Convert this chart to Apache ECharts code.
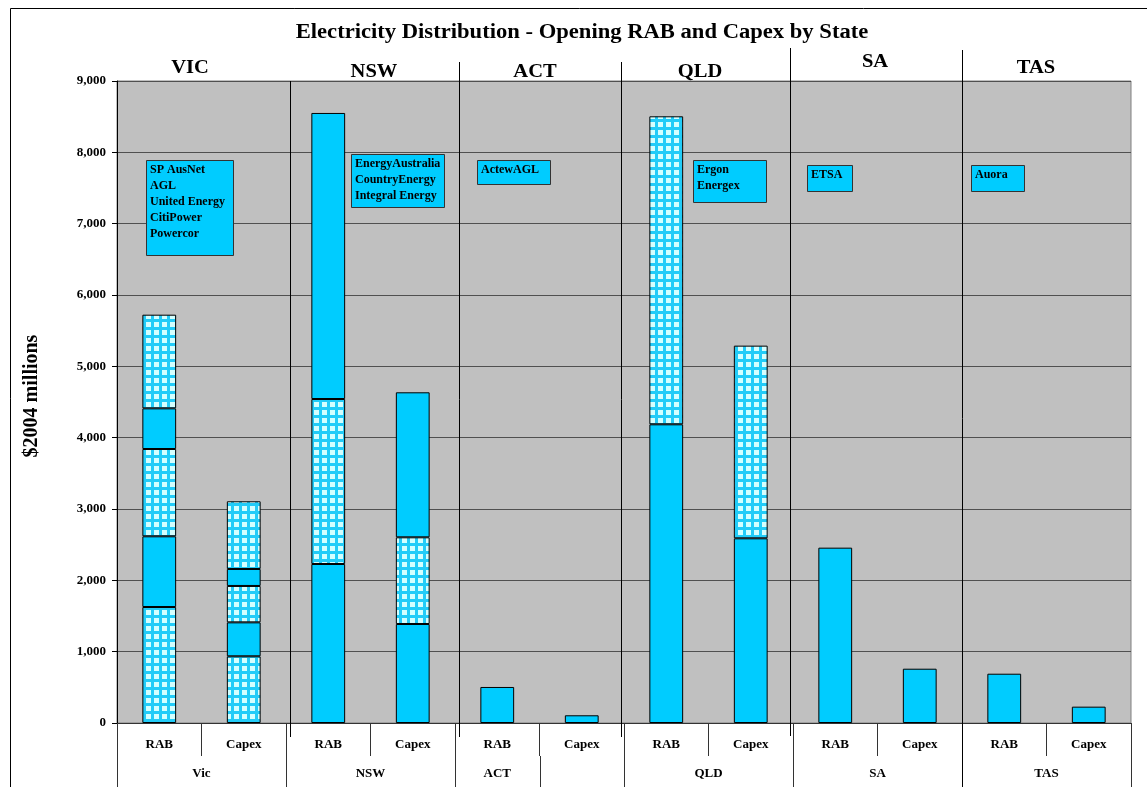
<!DOCTYPE html>
<html>
<head>
<meta charset="utf-8">
<title>Electricity Distribution - Opening RAB and Capex by State</title>
<script src="https://cdn.jsdelivr.net/npm/echarts@6/dist/echarts.min.js"></script>
<style>
  html, body { margin: 0; padding: 0; background: #ffffff; }
  #chart { width: 1147px; height: 787px; }
</style>
</head>
<body>
<div id="chart"></div>
<script>
// ---- data ($2004 millions) ----
const categories = ['RAB', 'Capex', 'RAB', 'Capex', 'RAB', 'Capex', 'RAB', 'Capex', 'RAB', 'Capex', 'RAB', 'Capex'];
const groupNames = ['Vic', 'NSW', 'ACT', '', 'QLD', 'SA', 'TAS'];
const groupSpans = [2, 2, 1, 1, 2, 2, 2];
const stateNames = ['VIC', 'NSW', 'ACT', 'QLD', 'SA', 'TAS'];
const businesses = [
  ['SP AusNet', 'AGL', 'United Energy', 'CitiPower', 'Powercor'],
  ['EnergyAustralia', 'CountryEnergy', 'Integral Energy'],
  ['ActewAGL'],
  ['Ergon', 'Energex'],
  ['ETSA'],
  ['Auora']
];
const yTicks = [0, 1000, 2000, 3000, 4000, 5000, 6000, 7000, 8000, 9000];

// stacked segments, bottom to top, one value per category
const segment1 = [1626, 935, 2229, 1388, 505, 108, 4187, 2589, 2458, 761, 691, 229];
const segment2 = [991, 476, 2313, 1215, null, null, 4318, 2701, null, null, null, null];
const segment3 = [1224, 510, 4010, 2033, null, null, null, null, null, null, null, null];
const segment4 = [570, 238, null, null, null, null, null, null, null, null, null, null];
const segment5 = [1313, 949, null, null, null, null, null, null, null, null, null, null];
// 1 = drawn with the checked fill, 0 = plain fill
const checked1 = [1, 1, 0, 0, 0, 0, 0, 0, 0, 0, 0, 0];
const checked2 = [0, 0, 1, 1, 0, 0, 1, 1, 0, 0, 0, 0];
const checked3 = [1, 1, 0, 0, 0, 0, 0, 0, 0, 0, 0, 0];
const checked4 = [0, 0, 0, 0, 0, 0, 0, 0, 0, 0, 0, 0];
const checked5 = [1, 1, 0, 0, 0, 0, 0, 0, 0, 0, 0, 0];

// ---- styling ----
const SERIF = '"Times New Roman", "Liberation Serif", serif';
const CYAN = '#00CCFF';

function checkCanvas() {
  const c = document.createElement('canvas');
  c.width = 8; c.height = 8;
  const g = c.getContext('2d');
  g.fillStyle = '#22CCF8';
  g.fillRect(0, 0, 8, 8);
  g.fillStyle = '#D4FFFF';
  g.fillRect(2, 2, 5, 5);
  return c;
}
const checkFill = { image: checkCanvas(), repeat: 'repeat' };

const segments = [segment1, segment2, segment3, segment4, segment5];
const checks = [checked1, checked2, checked3, checked4, checked5];

const series = segments.map((vals, s) => ({
  type: 'bar',
  stack: 'total',
  xAxisIndex: 0,
  barWidth: '40%',
  data: vals.map((v, i) => ({
    value: v,
    itemStyle: { color: checks[s][i] ? checkFill : CYAN }
  })),
  itemStyle: { borderColor: '#000', borderWidth: 1 }
}));

const chart = echarts.init(document.getElementById('chart'), null, { renderer: 'canvas' });

chart.setOption({
  animation: false,
  backgroundColor: '#ffffff',
  grid: {
    left: 117, right: 16, top: 81, bottom: 64,
    show: true, backgroundColor: '#C0C0C0', borderColor: '#808080', borderWidth: 1
  },
  xAxis: [
    {
      type: 'category',
      data: categories,
      axisLine: { lineStyle: { color: '#333', width: 1 } },
      axisTick: { show: true, interval: 0, length: 33, lineStyle: { color: '#333' } },
      axisLabel: {
        interval: 0, margin: 15,
        fontFamily: SERIF, fontSize: 13, fontWeight: 'bold', color: '#000'
      },
      splitLine: { show: false }
    },
    { type: 'value', min: 0, max: categories.length, show: false }
  ],
  yAxis: {
    type: 'value',
    min: yTicks[0], max: yTicks[yTicks.length - 1], interval: 1000,
    axisLine: { show: true, lineStyle: { color: '#000' } },
    axisTick: { show: true, length: 5, lineStyle: { color: '#000' } },
    axisLabel: {
      margin: 11, fontFamily: SERIF, fontSize: 13, fontWeight: 'bold', color: '#000',
      formatter: v => v.toLocaleString('en-US')
    },
    splitLine: { show: true, lineStyle: { color: '#505050', width: 1 } }
  },
  series: series
});

// ---- annotations placed from axis positions ----
const px = v => chart.convertToPixel({ xAxisIndex: 1 }, v);
const py = v => chart.convertToPixel({ yAxisIndex: 0 }, v);
const y0 = py(0);
const graphics = [];

// outer frame
graphics.push({
  type: 'rect', silent: true,
  shape: { x: 10.5, y: 8.5, width: 1200, height: 900 },
  style: { fill: 'none', stroke: '#000', lineWidth: 1 }
});

// title
graphics.push({
  type: 'text', silent: true, x: 582, y: 33, scaleX: 1.13,
  style: {
    text: 'Electricity Distribution - Opening RAB and Capex by State',
    x: 0, y: 0, textAlign: 'center', textVerticalAlign: 'middle',
    font: 'bold 20px ' + SERIF, fill: '#000'
  }
});

// y axis title
graphics.push({
  type: 'text', silent: true, x: 32, y: 396, rotation: Math.PI / 2,
  style: {
    text: '$2004 millions', x: 0, y: 0, textAlign: 'center', textVerticalAlign: 'middle',
    font: 'bold 20px ' + SERIF, fill: '#000'
  }
});

// state dividers inside the plot: [category position, top y, bottom y]
const dividers = [[2.05, 81, 737], [4.05, 62, 737], [5.97, 62, 737], [7.96, 48, 736], [10.0, 50, 787]];
dividers.forEach(([v, t, b]) => {
  const x = Math.round(px(v)) + 0.5;
  graphics.push({
    type: 'line', silent: true, z: 10,
    shape: { x1: x, y1: t, x2: x, y2: b },
    style: { stroke: '#000', lineWidth: 1 }
  });
});

// lower label row: group separators and names
let start = 0;
const rowTop = y0 + 33;
const bounds = [0];
groupSpans.forEach(s => { start += s; bounds.push(start); });
bounds.forEach(b => {
  const x = Math.round(px(b)) + 0.5;
  graphics.push({
    type: 'line', silent: true,
    shape: { x1: x, y1: rowTop, x2: x, y2: 787 },
    style: { stroke: '#333', lineWidth: 1 }
  });
});
groupNames.forEach((name, i) => {
  if (!name) return;
  const mid = (bounds[i] + bounds[i + 1]) / 2;
  graphics.push({
    type: 'text', silent: true,
    style: {
      text: name, x: px(mid), y: y0 + 51, textAlign: 'center', textVerticalAlign: 'middle',
      font: 'bold 13px ' + SERIF, fill: '#000'
    }
  });
});

// state headings above the plot
const stateLabelPos = [[190, 68], [374, 72], [535, 72], [700, 72], [875, 62], [1036, 68]];
stateNames.forEach((name, i) => {
  graphics.push({
    type: 'text', silent: true, x: stateLabelPos[i][0], y: stateLabelPos[i][1], scaleX: 1.08,
    style: {
      text: name, x: 0, y: 0,
      textAlign: 'center', textVerticalAlign: 'middle',
      font: 'bold 19px ' + SERIF, fill: '#000'
    }
  });
});

// boxes listing the distribution businesses in each state: [x, y, w, h]
const boxRects = [[146, 160, 87, 95], [351, 154, 93, 53], [477, 160, 73, 24], [693, 160, 73, 42], [807, 165, 45, 26], [971, 165, 53, 26]];
businesses.forEach((names, i) => {
  const [bx, by, bw, bh] = boxRects[i];
  graphics.push({
    type: 'rect', silent: true, z: 20,
    shape: { x: bx + 0.5, y: by + 0.5, width: bw, height: bh },
    style: { fill: CYAN, stroke: '#333', lineWidth: 1 }
  });
  names.forEach((n, k) => {
    graphics.push({
      type: 'text', silent: true, z: 21,
      style: {
        text: n, x: bx + 4, y: by + 10 + k * 16, textAlign: 'left', textVerticalAlign: 'middle',
        font: 'bold 12px ' + SERIF, fill: '#000'
      }
    });
  });
});

chart.setOption({ graphic: graphics });
</script>
</body>
</html>
